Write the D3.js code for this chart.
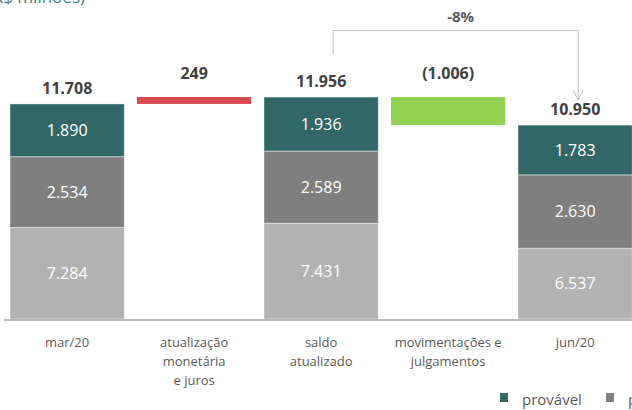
<!DOCTYPE html>
<html>
<head>
<meta charset="utf-8">
<script src="https://cdn.jsdelivr.net/npm/d3@7"></script>
<style>
  html, body { margin: 0; padding: 0; background: #fff; overflow: hidden; }
  svg { display: block; font-family: "Open Sans", "Noto Sans", sans-serif; }
</style>
</head>
<body>
<script>
// categories, one label line per entry
const categories = ["mar/20", "atualização monetária e juros", "saldo atualizado", "movimentações e julgamentos", "jun/20"];
const catLines = [["mar/20"], ["atualização", "monetária", "e juros"], ["saldo", "atualizado"], ["movimentações e", "julgamentos"], ["jun/20"]];

// stacked series (R$ milhões), null where the column is a variation bar
const seriesNames = ["provável", "possível", "remota"];
const provavel = [1890, null, 1936, null, 1783];
const possivel = [2534, null, 2589, null, 2630];
const remota   = [7284, null, 7431, null, 6537];

// variations between the stacks
const variacao = [null, 249, null, -1006, null];
const variacaoPct = "-8%";
const unidade = "(R$ milhões)";

const W = 632, H = 410;
const colors = {"provável": "#316867", "possível": "#7f7f7f", "remota": "#b2b2b2"};
const upColor = "#d64a50", downColor = "#92d050";

const br = d3.formatLocale({decimal: ",", thousands: ".", grouping: [3], currency: ["R$", ""]});
const fmt = br.format(",d");

const svg = d3.select("body").append("svg")
  .attr("width", W).attr("height", H);

const x = d3.scaleBand()
  .domain(categories)
  .range([3.65, 638.65])
  .paddingInner(0.1)
  .paddingOuter(0.05);

// axis doesn't start at zero in the original
const y = d3.scaleLinear()
  .domain([4000, 12000])
  .range([319, 95.8])
  .clamp(true);

// build the stack rows
const rows = categories.map((c, i) => ({
  cat: c, "provável": provavel[i], "possível": possivel[i], "remota": remota[i]
}));
const stackRows = rows.filter(r => r["provável"] != null);
const stack = d3.stack().keys(["remota", "possível", "provável"]);
const layers = stack(stackRows);

const g = svg.append("g");

layers.forEach(layer => {
  const key = layer.key;
  g.selectAll(null)
    .data(layer)
    .enter().append("rect")
    .attr("x", d => x(d.data.cat))
    .attr("width", x.bandwidth())
    .attr("y", d => y(d[1]))
    .attr("height", d => y(d[0]) - y(d[1]))
    .attr("fill", colors[key])
    .attr("stroke", "rgba(255,255,255,0.45)")
    .attr("stroke-width", 1);

  g.selectAll(null)
    .data(layer)
    .enter().append("text")
    .attr("x", d => x(d.data.cat) + x.bandwidth() / 2)
    .attr("y", d => (y(d[0]) + y(d[1])) / 2)
    .attr("dy", "0.36em")
    .attr("text-anchor", "middle")
    .attr("fill", "#fff")
    .attr("font-size", 16)
    .text(d => fmt(d.data[key]));
});

// totals over stacks
const totals = stackRows.map(r => ({cat: r.cat, v: r["provável"] + r["possível"] + r["remota"]}));
g.selectAll(null)
  .data(totals)
  .enter().append("text")
  .attr("x", d => x(d.cat) + x.bandwidth() / 2)
  .attr("y", d => y(d.v) - 10)
  .attr("text-anchor", "middle")
  .attr("fill", "#404040")
  .attr("font-weight", "bold")
  .attr("font-size", 16)
  .text(d => fmt(d.v));

// floating variation bars
const steps = [];
let running = 0;
categories.forEach((c, i) => {
  if (variacao[i] == null) {
    running = provavel[i] + possivel[i] + remota[i];
  } else {
    steps.push({cat: c, from: running, to: running + variacao[i], v: variacao[i]});
    running += variacao[i];
  }
});

g.selectAll(null)
  .data(steps)
  .enter().append("rect")
  .attr("x", d => x(d.cat))
  .attr("width", x.bandwidth())
  .attr("y", d => y(Math.max(d.from, d.to)))
  .attr("height", d => Math.abs(y(d.from) - y(d.to)))
  .attr("fill", d => d.v >= 0 ? upColor : downColor);

g.selectAll(null)
  .data(steps)
  .enter().append("text")
  .attr("x", d => x(d.cat) + x.bandwidth() / 2)
  .attr("y", d => y(Math.max(d.from, d.to)) - 18)
  .attr("text-anchor", "middle")
  .attr("fill", "#404040")
  .attr("font-weight", "bold")
  .attr("font-size", 16)
  .text(d => d.v >= 0 ? fmt(d.v) : "(" + fmt(-d.v) + ")");

// baseline axis
const ax = svg.append("g")
  .attr("transform", "translate(0,319.5)")
  .call(d3.axisBottom(x).tickSize(0).tickSizeOuter(0).tickFormat(""));
ax.select(".domain").attr("stroke", "#a0a0a0").attr("stroke-width", 1.5);

const lbl = svg.append("g");
categories.forEach((c, i) => {
  const t = lbl.append("text")
    .attr("x", x(c) + x.bandwidth() / 2)
    .attr("y", 347)
    .attr("text-anchor", "middle")
    .attr("fill", "#595959")
    .attr("font-size", 13);
  catLines[i].forEach((line, j) => {
    t.append("tspan")
      .attr("x", x(c) + x.bandwidth() / 2)
      .attr("y", 347 + j * 19)
      .text(line);
  });
});

// -8% bracket from saldo atualizado to jun/20
const x0 = x(categories[2]) + x.bandwidth() / 2 + 12;
const x1 = x(categories[4]) + x.bandwidth() / 2 + 3;
const bracket = svg.append("g").attr("stroke", "#bfbfbf").attr("fill", "none").attr("stroke-width", 1);
bracket.append("path").attr("d", `M${x0},54V30.5H${x1}V100`);
bracket.append("path").attr("d", `M${x1 - 5},90L${x1},100L${x1 + 5},90`);
svg.append("text")
  .attr("x", (x0 + x1) / 2 + 5)
  .attr("y", 22)
  .attr("text-anchor", "middle")
  .attr("fill", "#595959")
  .attr("font-weight", "bold")
  .attr("font-size", 15)
  .text(variacaoPct);

// unit title, mostly cut off at the top
svg.append("text")
  .attr("x", 85)
  .attr("y", 2.5)
  .attr("text-anchor", "end")
  .attr("fill", "#3d7c7b")
  .attr("font-size", 17)
  .text(unidade);

// legend
const legX = [500, 606, 712];
const leg = svg.append("g");
seriesNames.forEach((s, i) => {
  leg.append("rect")
    .attr("x", legX[i]).attr("y", 393)
    .attr("width", 8).attr("height", 9)
    .attr("fill", colors[s]);
  leg.append("text")
    .attr("x", legX[i] + 22).attr("y", 405)
    .attr("fill", "#595959")
    .attr("font-size", 15)
    .text(s);
});
</script>
</body>
</html>
